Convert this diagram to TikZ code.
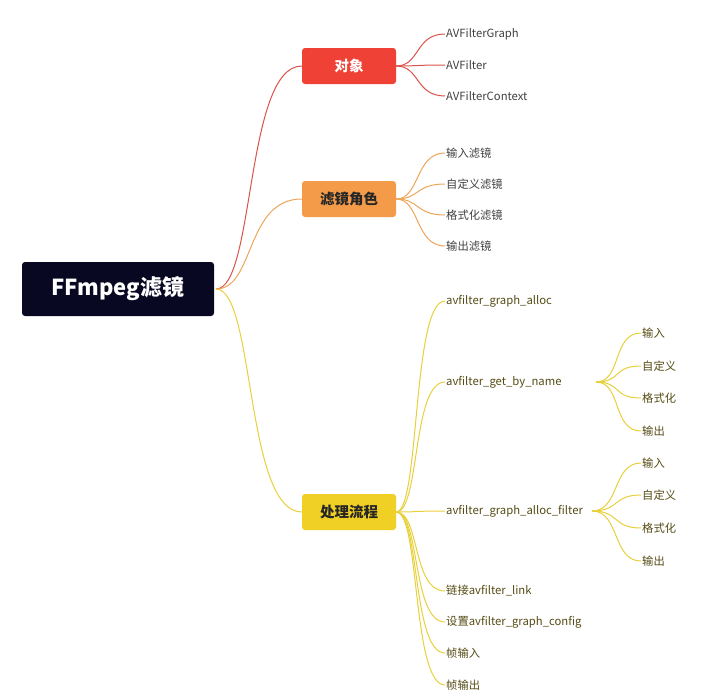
\documentclass[tikz,border=0pt]{standalone}
\usepackage{fontspec}
\setmainfont{Noto Sans CJK SC}
\begin{document}
\begin{tikzpicture}[x=1pt,y=-1pt,
  box/.style={rounded corners=3pt,minimum height=36pt,minimum width=94pt,font=\bfseries\fontsize{14.5}{16}\selectfont},
  leaf/.style={anchor=west,inner sep=1pt,font=\fontsize{11.3}{13}\selectfont,text=black!75},
  yleaf/.style={leaf,text={rgb,255:red,85;green,75;blue,20}},
  conn/.style={line width=1pt}]
\definecolor{cR}{HTML}{EF4136}\definecolor{cO}{HTML}{F49B4A}\definecolor{cY}{HTML}{F0D024}
\definecolor{lR}{HTML}{D9534A}\definecolor{lO}{HTML}{EDA55A}\definecolor{lY}{HTML}{E8D03A}
\useasboundingbox (0,0) rectangle (709,696);
\node[rounded corners=3pt,fill={rgb,255:red,8;green,8;blue,35},text=white,minimum width=192pt,minimum height=54pt,font=\bfseries\fontsize{22}{24}\selectfont] (root) at (118,289) {FFmpeg滤镜};
\node[box,fill=cR,text=white] (b1) at (349,66) {对象};
\node[box,fill=cO,text=black!85] (b2) at (349,199) {滤镜角色};
\node[box,fill=cY,text=black!85] (b3) at (349,512) {处理流程};
\coordinate (r) at (216,289);
\draw[conn,lR] (r) .. controls (255,289) and (245,66) .. (b1.west);
\draw[conn,lO] (r) .. controls (255,289) and (245,199) .. (b2.west);
\draw[conn,lY] (r) .. controls (255,289) and (245,512) .. (b3.west);
\foreach \t/\y [count=\i] in {AVFilterGraph/34,AVFilter/65,AVFilterContext/96}{
  \node[leaf] (a\i) at (445,\y) {\t};
  \draw[conn,lR] (b1.east) .. controls (420,66) and (415,\y) .. (a\i.west);}
\foreach \t/\y [count=\i] in {输入滤镜/153,自定义滤镜/184,格式化滤镜/215,输出滤镜/246}{
  \node[leaf] (o\i) at (445,\y) {\t};
  \draw[conn,lO] (b2.east) .. controls (420,199) and (415,\y) .. (o\i.west);}
\foreach \t/\y [count=\i] in {avfilter\_graph\_alloc/301,avfilter\_get\_by\_name/382,avfilter\_graph\_alloc\_filter/511,链接avfilter\_link/591,设置avfilter\_graph\_config/622,帧输入/653,帧输出/685}{
  \node[yleaf] (y\i) at (445,\y) {\t};
  \draw[conn,lY] (b3.east) .. controls (420,512) and (412,\y) .. (y\i.west);}
\coordinate (g1) at (596,382);
\coordinate (g2) at (592,511);
\foreach \t/\y [count=\i] in {输入/333,自定义/366,格式化/398,输出/431}{
  \node[yleaf] (p\i) at (641,\y) {\t};
  \draw[conn,lY] (g1) .. controls (622,382) and (612,\y) .. (p\i.west);}
\foreach \t/\y [count=\i] in {输入/463,自定义/495,格式化/528,输出/561}{
  \node[yleaf] (q\i) at (641,\y) {\t};
  \draw[conn,lY] (g2) .. controls (620,511) and (612,\y) .. (q\i.west);}
\end{tikzpicture}
\end{document}
